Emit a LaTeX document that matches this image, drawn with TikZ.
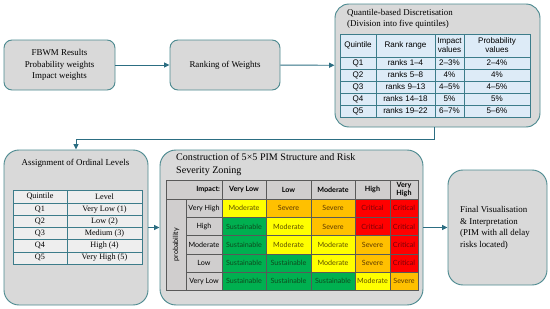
\documentclass[tikz,border=0pt]{standalone}
\usepackage{fontspec}
\setmainfont{Liberation Serif}
\newfontfamily\tabsans{Liberation Sans}
\newfontfamily\pimsans{Lato}
\usetikzlibrary{arrows.meta, calc, positioning}
\definecolor{flowTeal}{HTML}{2C6E82}
\definecolor{boxEdge}{HTML}{4D8A90}
\definecolor{boxGrey}{HTML}{D9D9D9}
\definecolor{tabBlue}{HTML}{DDEBF7}
\definecolor{tabEdge}{HTML}{3C7C8A}
\definecolor{tabGrey}{HTML}{EEEEEE}
\definecolor{pimHead}{HTML}{D0CECE}
\definecolor{pimLine}{HTML}{595959}
\definecolor{pimG}{HTML}{00B050}
\definecolor{pimY}{HTML}{FFFF00}
\definecolor{pimO}{HTML}{FFC000}
\definecolor{pimR}{HTML}{FF0000}
\definecolor{txG}{HTML}{0E4A1E}
\definecolor{txY}{HTML}{5E4F00}
\definecolor{txO}{HTML}{5E3A00}
\definecolor{txR}{HTML}{7A0008}
\def\pxu{0.03cm}
\newcommand\stagefont{\fontsize{7.6}{9.8}\selectfont}
\newcommand\titlefont{\fontsize{8.6}{11}\selectfont}
\newcommand\qfont{\tabsans\fontsize{6.9}{7.8}\selectfont}
\newcommand\afont{\fontsize{7}{8}\selectfont}
\newcommand\pimfont{\pimsans\fontsize{6.1}{6.8}\selectfont}
\tikzset{
  stage/.style    = {draw=boxEdge, fill=boxGrey, line width=0.8pt, align=center,
                     font=\stagefont, inner sep=0pt},
  flow/.style     = {-{Triangle[length=1.6mm, width=1.5mm]}, draw=flowTeal, line width=0.8pt},
  qcell/.style    = {draw=tabEdge, fill=tabBlue, line width=0.5pt, align=center,
                     font=\qfont, inner sep=0pt},
  acell/.style    = {draw=tabEdge, fill=tabGrey, line width=0.5pt, align=center,
                     font=\afont, inner sep=0pt},
  pimhd/.style    = {draw=pimLine, fill=pimHead, line width=0.5pt, align=center,
                     font=\pimfont, inner sep=0pt},
  pimcell/.style  = {draw=pimLine, line width=0.5pt, font=\pimfont, inner sep=0pt},
  sus/.style      = {pimcell, fill=pimG, text=txG, node contents={Sustainable}},
  mod/.style      = {pimcell, fill=pimY, text=txY, node contents={Moderate}},
  sev/.style      = {pimcell, fill=pimO, text=txO, node contents={Severe}},
  cri/.style      = {pimcell, fill=pimR, text=txR, node contents={Critical}},
}

\begin{document}
\begin{tikzpicture}[x=0.03cm, y=-0.03cm]
  \useasboundingbox (0,0) rectangle (550,309);
  % top row of stages
  \node[stage, rounded corners=8*\pxu, minimum width=111*\pxu, minimum height=50*\pxu]
    (fbwm) at (59.5,65) {FBWM Results\\Probability weights\\Impact weights};
  \node[stage, rounded corners=8*\pxu, minimum width=110*\pxu, minimum height=50*\pxu]
    (rank) at (225,65) {Ranking of Weights};
  \node[stage, rounded corners=14*\pxu, minimum width=205*\pxu, minimum height=123*\pxu]
    (quant) at (437.5,65.5) {};
  \node[font=\stagefont, align=left, anchor=north west, inner sep=0pt]
    (quanttitle) at (347,9) {Quantile-based Discretisation\\(Division into five quintiles)};
  % quintile table
  \foreach \tx/\cx/\w [count=\j] in {Quintile/358/36, Rank range/405.5/59,
      {Impact\\values}/449.5/29, {Probability\\values}/497/66}
    \node[qcell, minimum width=\w*\pxu, minimum height=23*\pxu] (qt-0-\j) at (\cx,45.5) {\tx};
  \foreach \a/\b/\c/\d [count=\i] in {Q1/ranks 1–4/2–3\%/2–4\%, Q2/ranks 5–8/4\%/4\%,
      Q3/ranks 9–13/4–5\%/4–5\%, Q4/ranks 14–18/5\%/5\%, Q5/ranks 19–22/6–7\%/5–6\%} {
    \pgfmathsetmacro\cy{57+12*\i-6}
    \node[qcell, minimum width=36*\pxu, minimum height=12*\pxu] (qt-\i-1) at (358,\cy) {\a};
    \node[qcell, minimum width=59*\pxu, minimum height=12*\pxu] (qt-\i-2) at (405.5,\cy) {\b};
    \node[qcell, minimum width=29*\pxu, minimum height=12*\pxu] (qt-\i-3) at (449.5,\cy) {\c};
    \node[qcell, minimum width=66*\pxu, minimum height=12*\pxu] (qt-\i-4) at (497,\cy) {\d};
  }
  % bottom row of stages
  \node[stage, rounded corners=15*\pxu, minimum width=144*\pxu, minimum height=155*\pxu]
    (assign) at (76,227.5) {};
  \node[font=\stagefont, inner sep=0pt] (assigntitle) at (75.5,163) {Assignment of Ordinal Levels};
  \node[acell, minimum width=54*\pxu, minimum height=13*\pxu] (at-0-1) at (40,196.5) {Quintile};
  \node[acell, minimum width=75*\pxu, minimum height=13*\pxu] (at-0-2) at (104.5,196.5) {Level};
  \foreach \a/\b [count=\i] in {Q1/Very Low (1), Q2/Low (2), Q3/Medium (3), Q4/High (4), Q5/Very High (5)} {
    \pgfmathsetmacro\cy{203+12.2*\i-6.1}
    \node[acell, minimum width=54*\pxu, minimum height=12.2*\pxu] (at-\i-1) at (40,\cy) {\a};
    \node[acell, minimum width=75*\pxu, minimum height=12.2*\pxu] (at-\i-2) at (104.5,\cy) {\b};
  }
  \node[stage, rounded corners=16*\pxu, minimum width=263*\pxu, minimum height=155*\pxu]
    (pim) at (291.5,227.5) {};
  \node[font=\titlefont, align=left, anchor=north west, inner sep=0pt]
    (pimtitle) at (176,153) {Construction of 5×5 PIM Structure and Risk\\Severity Zoning};
  % 5x5 matrix
  \node[pimhd, font=\pimfont\bfseries, text width=52*\pxu, inner xsep=2*\pxu, align=right,
    minimum height=19*\pxu] (imp) at (194,189.5) {Impact:};
  \foreach \tx/\cx/\w [count=\j] in {Very Low/244/44, Low/288.5/45, Moderate/333/44,
      High/372.5/35, {Very\\High}/404/28}
    \node[pimhd, font=\pimfont\bfseries, minimum width=\w*\pxu, minimum height=19*\pxu]
      (ih-\j) at (\cx,189.5) {\tx};
  \node[pimhd, rotate=90, minimum width=91*\pxu, minimum height=20*\pxu] (prob) at (176,244.7) {probability};
  \foreach \rl/\lvs [count=\i] in {Very High/{mod,sev,sev,cri,cri}, High/{sus,mod,sev,cri,cri},
      Moderate/{sus,mod,mod,sev,cri}, Low/{sus,sus,mod,sev,cri}, Very Low/{sus,sus,sus,mod,sev}} {
    \pgfmathsetmacro\cy{199.2+18.2*\i-9.1}
    \node[pimhd, minimum width=36*\pxu, minimum height=18.2*\pxu] (pr-\i) at (204,\cy) {\rl};
    \foreach \lv [count=\j] in \lvs {
      \pgfmathsetmacro\w{{44,45,44,35,28}[\j-1]}
      \node (pc-\i-\j) at (ih-\j |- pr-\i) [\lv, minimum width=\w*\pxu, minimum height=18.2*\pxu];
    }
  }
  \node[stage, rounded corners=15*\pxu, minimum width=99*\pxu, minimum height=115*\pxu]
    (final) at (497.5,227.5) {};
  \node[font=\stagefont, align=left, anchor=west, inner sep=0pt] (finaltext) at (460,228)
    {Final Visualisation\\\& Interpretation\\(PIM with all delay\\risks located)};
  % connectors
  \draw[flow] (fbwm) -- (rank);
  \draw[flow] (rank) -- (quant);
  \draw[flow] (qt-5-3.west |- quant.south) -- ++(0,12) -| (assign.north);
  \draw[flow] (assign) -- (pim);
  \draw[flow] (pim) -- (final);
\end{tikzpicture}
\end{document}
